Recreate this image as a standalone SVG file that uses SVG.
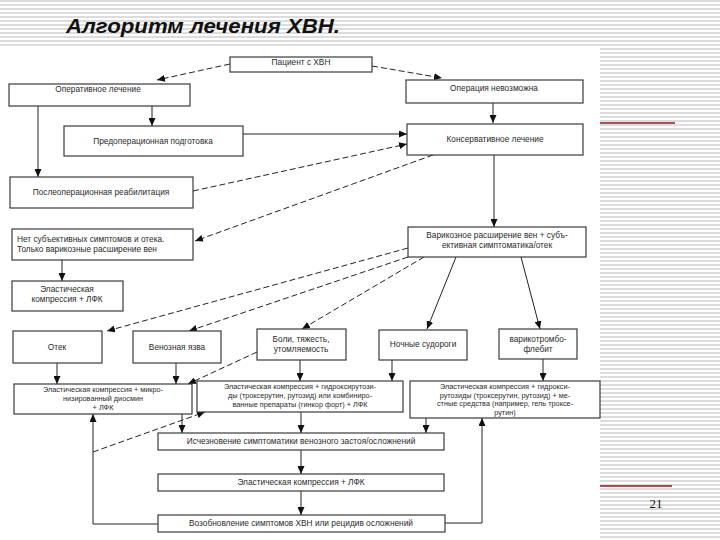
<svg xmlns="http://www.w3.org/2000/svg" width="720" height="540" viewBox="0 0 720 540">
<defs>
<pattern id="stripes" width="8" height="4" patternUnits="userSpaceOnUse">
<rect width="8" height="4" fill="#ffffff"/>
<rect y="0" width="8" height="2" fill="#dcdcdc"/>
</pattern>
<marker id="ah" markerUnits="userSpaceOnUse" markerWidth="9" markerHeight="7" refX="8" refY="3.5" orient="auto">
<path d="M0,0 L8,3.5 L0,7 z" fill="#111"/>
</marker>
<style>
.box{fill:#fff;stroke:#3a3a3a;stroke-width:1.2}
.t{font-family:"Liberation Sans",Arial,sans-serif;font-size:8.3px;fill:#2a2a2a;text-anchor:middle}
.s{font-size:7.3px}
.tl{text-anchor:start}
.c{fill:none;stroke:#222;stroke-width:1;marker-end:url(#ah)}
.d{stroke-dasharray:6,3}
.red{stroke:#8b1a1a;stroke-width:1.5}
</style>
</defs>
<rect width="720" height="540" fill="url(#stripes)"/>
<rect x="0" y="48" width="600" height="492" fill="#ffffff"/>
<text x="66" y="33" font-family="Liberation Sans, Arial, sans-serif" font-size="20" font-weight="bold" font-style="italic" fill="#111" textLength="274" lengthAdjust="spacingAndGlyphs">Алгоритм лечения ХВН.</text>
<line class="red" x1="600" y1="123" x2="675" y2="123"/>
<line class="red" x1="600" y1="486" x2="672" y2="486"/>
<text x="656" y="508" font-family="Liberation Serif, serif" font-size="13" fill="#111" text-anchor="middle">21</text>

<g id="connectors">
<path class="c d" d="M230,64 L157,80"/>
<path class="c d" d="M372,66 L442,78"/>
<path class="c" d="M38,106 L38,177"/>
<path class="c" d="M152,106 L152,126"/>
<path class="c" d="M493,103 L493,123"/>
<path class="c" d="M243,134 L407,134"/>
<path class="c d" d="M193,191 L407,144"/>
<path class="c d" d="M433,155 L195,241"/>
<path class="c" d="M494,155 L494,227"/>
<path class="c" d="M62,260 L62,281"/>
<path class="c d" d="M408,248 L107,331"/>
<path class="c d" d="M408,257 L189,331"/>
<path class="c d" d="M424,257 L302,329"/>
<path class="c" d="M456,257 L427,329"/>
<path class="c" d="M521,257 L540,329"/>
<path class="c" d="M57,363 L57,384"/>
<path class="c" d="M176,363 L176,384"/>
<path class="c" d="M300,360 L300,381"/>
<path class="c" d="M392,360 L392,381"/>
<path class="c" d="M543,359 L543,381"/>
<path class="c d" d="M257,352 L188,384"/>
<path class="c" d="M182,414 L182,433"/>
<path class="c" d="M301,412 L301,433"/>
<path class="c" d="M426,418 L426,433"/>
<path class="c" d="M301,450 L301,474"/>
<path class="c" d="M301,491 L301,515"/>
<path class="c" d="M158,524 L93,524 L93,414"/>
<path class="c" d="M445,523 L482,523 L482,418"/>
<path class="c d" d="M93,452 L205,412"/>
</g>

<g id="n1"><rect class="box" x="230" y="57" width="142" height="15"/><text class="t" x="301" y="65">Пациент с ХВН</text></g>
<g id="n2"><rect class="box" x="9" y="84" width="181" height="22"/><text class="t" x="98" y="92">Оперативное лечение</text></g>
<g id="n3"><rect class="box" x="406" y="80" width="177" height="23"/><text class="t" x="494" y="91">Операция невозможна</text></g>
<g id="n4"><rect class="box" x="64" y="126" width="179" height="30"/><text class="t" x="153" y="144">Предоперационная подготовка</text></g>
<g id="n5"><rect class="box" x="407" y="124" width="176" height="31"/><text class="t" x="495" y="142">Консервативное лечение</text></g>
<g id="n6"><rect class="box" x="10" y="177" width="183" height="31"/><text class="t" x="101" y="195">Послеоперационная реабилитация</text></g>
<g id="n7"><rect class="box" x="12" y="229" width="181" height="31"/><text class="t tl" x="17" y="242">Нет субъективных симптомов и отека.</text><text class="t tl" x="17" y="252">Только варикозные расширение вен</text></g>
<g id="n8"><rect class="box" x="12" y="281" width="111" height="30"/><text class="t" x="67" y="292">Эластическая</text><text class="t" x="67" y="302">компрессия + ЛФК</text></g>
<g id="n9"><rect class="box" x="408" y="227" width="178" height="30"/><text class="t" x="497" y="238">Варикозное расширение вен + субъ-</text><text class="t" x="497" y="248">ективная симптоматика/отек</text></g>
<g id="n10"><rect class="box" x="13" y="331" width="89" height="32"/><text class="t" x="57" y="350">Отек</text></g>
<g id="n11"><rect class="box" x="133" y="331" width="88" height="32"/><text class="t" x="177" y="350">Венозная язва</text></g>
<g id="n12"><rect class="box" x="257" y="329" width="89" height="31"/><text class="t" x="301" y="342">Боли, тяжесть,</text><text class="t" x="301" y="352">утомляемость</text></g>
<g id="n13"><rect class="box" x="379" y="330" width="88" height="30"/><text class="t" x="423" y="347">Ночные судороги</text></g>
<g id="n14"><rect class="box" x="499" y="329" width="78" height="30"/><text class="t" x="538" y="342">варикотромбо-</text><text class="t" x="538" y="352">флебит</text></g>
<g id="n15"><rect class="box" x="14" y="384" width="178" height="30"/><text class="t s" x="103" y="392">Эластическая компрессия + микро-</text><text class="t s" x="103" y="401">низированный диосмин</text><text class="t s" x="103" y="410">+ ЛФК</text></g>
<g id="n16"><rect class="box" x="197" y="381" width="206" height="31"/><text class="t s" x="300" y="389">Эластическая компрессия + гидроксирутози-</text><text class="t s" x="300" y="398">ды (троксерутин, рутозид) или комбиниро-</text><text class="t s" x="300" y="407">ванные препараты (гинкор форт) + ЛФК</text></g>
<g id="n17"><rect class="box" x="410" y="381" width="190" height="37"/><text class="t s" x="505" y="389">Эластическая компрессия + гидрокси-</text><text class="t s" x="505" y="397.5">рутозиды (троксерутин, рутозид) + ме-</text><text class="t s" x="505" y="406">стные средства (например, гель троксе-</text><text class="t s" x="505" y="414.5">рутин)</text></g>
<g id="n18"><rect class="box" x="158" y="433" width="286" height="17"/><text class="t" x="301" y="444">Исчезновение симптоматики венозного застоя/осложнений</text></g>
<g id="n19"><rect class="box" x="158" y="474" width="286" height="17"/><text class="t" x="301" y="485">Эластическая компрессия + ЛФК</text></g>
<g id="n20"><rect class="box" x="158" y="515" width="287" height="17"/><text class="t" x="301" y="526">Возобновление симптомов ХВН или рецидив осложнений</text></g>
</svg>
